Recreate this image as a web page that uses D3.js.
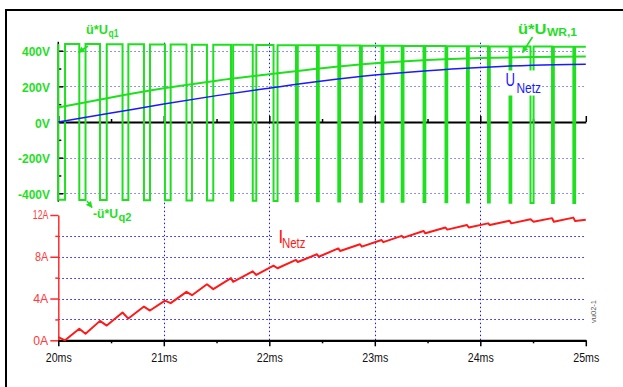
<!DOCTYPE html>
<html>
<head>
<meta charset="utf-8">
<script src="https://cdn.jsdelivr.net/npm/d3@7"></script>
<style>
  body { margin: 0; background: #fff; }
  svg { display: block; font-family: Arial, "Liberation Sans", sans-serif; }
</style>
</head>
<body>
<svg id="chart" width="623" height="387"></svg>
<script>
// axis ticks
const timeTicks = [20, 21, 22, 23, 24, 25];
const timeMinor = [20.5, 21.5, 22.5, 23.5, 24.5];
const timeLabels = ["20ms", "21ms", "22ms", "23ms", "24ms", "25ms"];
const gridTimes = [21, 22, 23, 24];
const voltTicks = [-400, -200, 0, 200, 400];
const voltMinor = [-300, -100, 100, 300];
const voltLabels = ["-400V", "-200V", "0V", "200V", "400V"];
const voltGrid = [-400, -200, 200, 400];
const ampTicks = [0, 4, 8, 12];
const ampMinor = [2, 6, 10];
const ampLabels = ["0A", "4A", "8A", "12A"];
const ampGrid = [2, 4, 6, 8, 10];

// PWM: low pulses of the bridge voltage (ms), levels per period (V)
const pulseOn = [20.000, 20.199, 20.395, 20.609, 20.812, 21.011, 21.215, 21.409, 21.637, 21.843,
  22.040, 22.253, 22.452, 22.654, 22.860, 23.064, 23.255, 23.462, 23.670, 23.874,
  24.073, 24.277, 24.476, 24.680, 24.882];
const pulseOff = [20.064, 20.258, 20.459, 20.664, 20.869, 21.065, 21.267, 21.469, 21.657, 21.877,
  22.078, 22.270, 22.469, 22.671, 22.877, 23.081, 23.272, 23.479, 23.687, 23.891,
  24.090, 24.294, 24.505, 24.697, 24.899];
const uHigh = [437, 437, 436, 436, 435, 435, 434, 434, 433, 432, 431, 431, 430, 429, 428,
  428, 427, 426, 425, 425, 424, 423, 423, 422, 422];
const uLow = [-436, -437, -437, -438, -439, -439, -440, -441, -441, -442, -443, -444, -445,
  -446, -447, -448, -448, -449, -450, -451, -452, -453, -454, -455, -455];

// grid current at pulse start / pulse end (A)
const iPeak = [0.3, 1.1, 1.86, 2.66, 3.23, 3.8, 4.64, 5.37, 5.95, 6.6, 7.15, 7.7, 8.24, 8.8,
  9.2, 9.6, 10.0, 10.47, 10.8, 11.04, 11.2, 11.45, 11.6, 11.7, 11.75];
const iTrough = [0.0, 0.62, 1.41, 2.08, 2.85, 3.56, 4.32, 4.9, 5.6, 6.26, 6.9, 7.5, 8.0, 8.55,
  8.97, 9.4, 9.83, 10.25, 10.6, 10.8, 11.04, 11.2, 11.36, 11.36, 11.43];
const iEnd = 11.55;

// fundamental of bridge voltage and grid voltage (V)
const curveTimes = [20, 20.5, 21, 21.5, 22, 22.5, 23, 23.5, 24, 24.5, 25];
const uWR = [82, 138, 189, 232, 268, 302, 329, 348, 359, 365, 367];
const uNetz = [0, 50, 101, 148, 190, 230, 263, 288, 306, 319, 324];

const GREEN = "#1fe01f";
const svg = d3.select("#chart");

const x = d3.scaleLinear().domain([20, 25]).range([58.3, 585.8]);
const yV = d3.scaleLinear().domain([-400, 400]).range([193.3, 50.7]);
const yA = d3.scaleLinear().domain([0, 12]).range([340.3, 215]);
const px = v => Math.round(v) + 0.5;

// frame (only top / left visible)
svg.append("path").attr("d", "M5,10H623M6,10V387")
  .attr("stroke", "#000").attr("stroke-width", 2).attr("fill", "none");

// dotted grid
const grid = svg.append("g").attr("fill", "none").attr("stroke-dasharray", "1.5,2.5");
grid.selectAll(".gt").data(gridTimes).join("line")
  .attr("x1", d => px(x(d))).attr("x2", d => px(x(d)))
  .attr("y1", yV(445)).attr("y2", yA(0))
  .attr("stroke", "#1515ff");
grid.selectAll(".gv").data(voltGrid).join("line")
  .attr("x1", x(20)).attr("x2", x(25))
  .attr("y1", d => px(yV(d))).attr("y2", d => px(yV(d)))
  .attr("stroke", "#6b6bff");
grid.selectAll(".ga").data(ampGrid).join("line")
  .attr("x1", x(20)).attr("x2", x(25))
  .attr("y1", d => px(yA(d))).attr("y2", d => px(yA(d)))
  .attr("stroke", "#1515ff");

// axes
function addAxis(axis, transform, color, width) {
  const g = svg.append("g").attr("transform", transform).attr("color", color).call(axis);
  g.selectAll("line").attr("stroke-width", 1.5);
  g.select(".domain").attr("stroke-width", width);
  return g;
}
// voltage axis (black, ticks inside)
addAxis(d3.axisRight(yV).tickValues(voltTicks).tickSize(5).tickFormat(""), `translate(${x(20)},0)`, "#000", 0)
  .select(".domain").remove();
addAxis(d3.axisRight(yV).tickValues(voltMinor).tickSize(3).tickFormat(""), `translate(${x(20)},0)`, "#000", 0)
  .select(".domain").remove();
svg.append("line").attr("x1", x(20)).attr("x2", x(20)).attr("y1", yV(450)).attr("y2", yV(-447))
  .attr("stroke", "#000").attr("stroke-width", 1.5);
// time axis at 0V
addAxis(d3.axisTop(x).tickValues(timeTicks).tickSize(6).tickSizeOuter(0).tickFormat(""), `translate(0,${yV(0)})`, "#000", 2.2);
addAxis(d3.axisTop(x).tickValues(timeMinor).tickSize(3).tickFormat(""), `translate(0,${yV(0)})`, "#000", 0)
  .select(".domain").remove();
// current axis (red)
addAxis(d3.axisLeft(yA).tickValues(ampTicks).tickSize(8).tickSizeOuter(0).tickFormat(""), `translate(${x(20)},0)`, "#ff2a2a", 1.5);
addAxis(d3.axisLeft(yA).tickValues(ampMinor).tickSize(3).tickFormat(""), `translate(${x(20)},0)`, "#ff2a2a", 0)
  .select(".domain").remove();
// time axis at 0A
addAxis(d3.axisBottom(x).tickValues(timeTicks).tickSize(6).tickSizeOuter(0).tickFormat(""), `translate(0,${yA(0)})`, "#000", 2.2);
addAxis(d3.axisBottom(x).tickValues(timeMinor).tickSize(3).tickFormat(""), `translate(0,${yA(0)})`, "#000", 0)
  .select(".domain").remove();

// tick labels (narrow face in the original -> fixed text lengths)
const voltWidths = [32, 32, 15, 28, 28];
svg.append("g").attr("font-weight", "bold").attr("font-size", 12.5).attr("fill", GREEN)
  .attr("text-anchor", "end")
  .selectAll("text").data(voltTicks).join("text")
  .attr("x", 50).attr("y", d => yV(d) + 5.6)
  .attr("textLength", (d, i) => voltWidths[i]).attr("lengthAdjust", "spacingAndGlyphs")
  .text((d, i) => voltLabels[i]);

const ampWidths = [15, 15, 13.3, 15.5];
svg.append("g").attr("font-size", 12.5).attr("fill", "#ff3a3a").attr("text-anchor", "end")
  .selectAll("text").data(ampTicks).join("text")
  .attr("x", 48.3).attr("y", d => yA(d) + 4.3)
  .attr("textLength", (d, i) => ampWidths[i]).attr("lengthAdjust", "spacingAndGlyphs")
  .text((d, i) => ampLabels[i]);

svg.append("g").attr("font-size", 12).attr("fill", "#111").attr("text-anchor", "middle")
  .selectAll("text").data(timeTicks).join("text")
  .attr("x", d => x(d) + 0.5).attr("y", 362)
  .attr("textLength", 26).attr("lengthAdjust", "spacingAndGlyphs")
  .text((d, i) => timeLabels[i]);

// bridge voltage square wave
const sq = [[20, uHigh[0]]];
pulseOn.forEach((t, i) => {
  const prev = i === 0 ? uHigh[0] : uHigh[i - 1];
  sq.push([t, prev], [t, uLow[i]], [pulseOff[i], uLow[i]], [pulseOff[i], uHigh[i]]);
});
sq.push([25, uHigh[uHigh.length - 1]]);
const lineV = d3.line().x(d => x(d[0])).y(d => yV(d[1]));
svg.append("path").datum(sq).attr("d", lineV)
  .attr("fill", "none").attr("stroke", GREEN).attr("stroke-width", 2).attr("stroke-linejoin", "miter");

// fundamental + grid voltage
const smooth = d3.line().x(d => x(d[0])).y(d => yV(d[1])).curve(d3.curveMonotoneX);
svg.append("path").datum(curveTimes.map((t, i) => [t, uWR[i]])).attr("d", smooth)
  .attr("fill", "none").attr("stroke", GREEN).attr("stroke-width", 2);
svg.append("path").datum(curveTimes.map((t, i) => [t, uNetz[i]])).attr("d", smooth)
  .attr("fill", "none").attr("stroke", "#1a1aff").attr("stroke-width", 1.5);

// grid current
const cur = [];
pulseOn.forEach((t, i) => cur.push([t, iPeak[i]], [pulseOff[i], iTrough[i]]));
cur.push([25, iEnd]);
svg.append("path").datum(cur)
  .attr("d", d3.line().x(d => x(d[0])).y(d => yA(d[1])))
  .attr("fill", "none").attr("stroke", "#ff1a1a").attr("stroke-width", 2).attr("stroke-linejoin", "round");

// arrow marker
svg.append("defs").append("marker")
  .attr("id", "arr").attr("viewBox", "0 0 10 10").attr("refX", 9).attr("refY", 5)
  .attr("markerWidth", 4).attr("markerHeight", 4).attr("orient", "auto")
  .append("path").attr("d", "M0,0L10,5L0,10z").attr("fill", GREEN);

const arrows = [[88, 46, 78.5, 52.5], [87, 201, 92, 207.5], [532.5, 37, 522.5, 52.5]];
svg.append("g").selectAll("line").data(arrows).join("line")
  .attr("x1", d => d[0]).attr("y1", d => d[1]).attr("x2", d => d[2]).attr("y2", d => d[3])
  .attr("stroke", GREEN).attr("stroke-width", 1.6).attr("marker-end", "url(#arr)");

// curve labels
function label(parts, color, weight) {
  const g = svg.append("g").attr("fill", color).attr("font-weight", weight);
  parts.forEach(p => {
    const t = g.append("text").attr("x", p.x).attr("y", p.y).attr("font-size", p.size).text(p.text);
    if (p.w) t.attr("textLength", p.w).attr("lengthAdjust", "spacingAndGlyphs");
  });
}
label([{ text: "ü*U", x: 86, y: 33.5, size: 13, w: 22 }, { text: "q1", x: 108.5, y: 36.5, size: 10, w: 10 }], GREEN, "bold");
label([{ text: "-ü*U", x: 93, y: 217.5, size: 12.5, w: 25 }, { text: "q2", x: 118.5, y: 221, size: 10, w: 13 }], GREEN, "bold");
label([{ text: "ü*U", x: 518, y: 33.5, size: 15, w: 28.5 }, { text: "WR,1", x: 547, y: 35.7, size: 11.5, w: 30 }], GREEN, "bold");

svg.append("rect").attr("x", 502).attr("y", 70.5).attr("width", 40).attr("height", 25).attr("fill", "#fff");
label([{ text: "U", x: 505.5, y: 85.5, size: 19, w: 9.5 }, { text: "Netz", x: 516.5, y: 93, size: 15.5, w: 24.5 }], "#1a1aff", "normal");

svg.append("rect").attr("x", 272).attr("y", 229).attr("width", 34).attr("height", 21).attr("fill", "#fff");
label([{ text: "I", x: 278.3, y: 243.3, size: 18.5 }, { text: "Netz", x: 282, y: 248.3, size: 15.5, w: 23.5 }], "#ff1a1a", "normal");

svg.append("text").attr("transform", "translate(596,323) rotate(-90)")
  .attr("font-size", 7).attr("fill", "#555").attr("textLength", 23).attr("lengthAdjust", "spacingAndGlyphs")
  .text("vu02-1");
</script>
</body>
</html>
